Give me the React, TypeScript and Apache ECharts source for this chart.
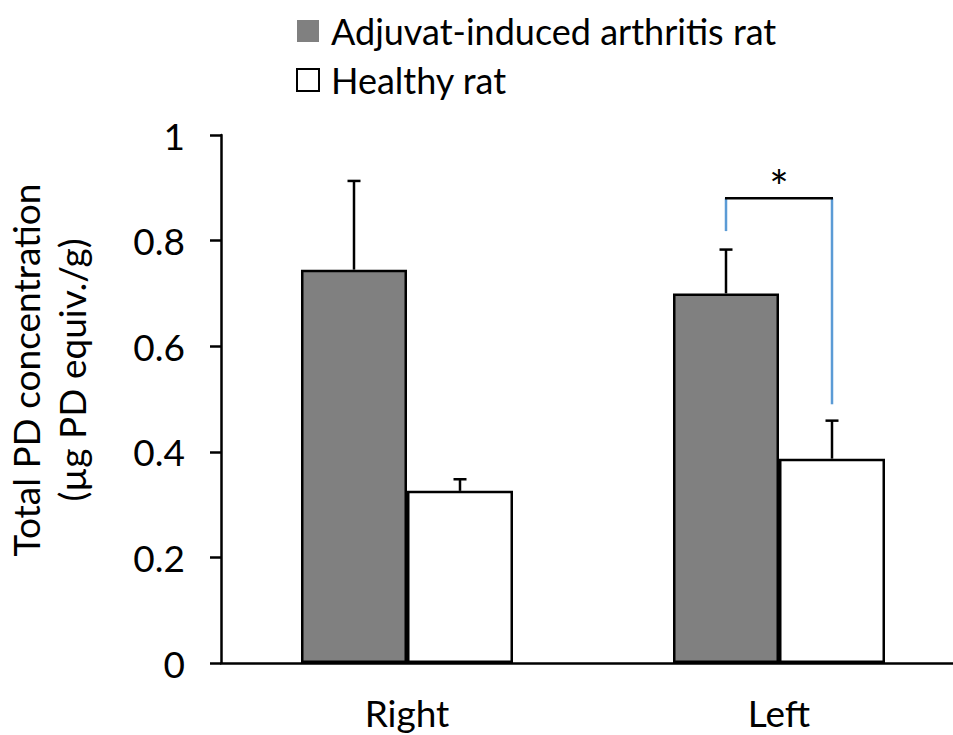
import React, { useEffect, useRef } from 'react';
import * as echarts from 'echarts';

const categories = ['Right', 'Left'];
const seriesNames = ['Adjuvat-induced arthritis rat', 'Healthy rat'];
const arthritisMean = [0.745, 0.7];
const arthritisErr = [0.168, 0.083];
const healthyMean = [0.326, 0.387];
const healthyErr = [0.022, 0.072];
const yMin = 0;
const yMax = 1;
const yInterval = 0.2;
const yTitle = 'Total PD concentration\n(µg PD equiv./g)';
// significance bracket on the "Left" group: [categoryIndex, top, leftEnd, rightEnd]
const sigBracket = [1, 0.88, 0.818, 0.49];
const sigLabel = '*';

const FONT = 'Lato';
const FS = 37;
const BAR_W = 106;

export default function App() {
  const ref = useRef<HTMLDivElement>(null);
  useEffect(() => {
    if (!ref.current) return;
    const chart = echarts.init(ref.current, undefined, { renderer: 'svg' });

    const errorRender = (offset: number) => (params: any, api: any) => {
      const xi = api.value(0);
      const base = api.coord([xi, api.value(1)]);
      const top = api.coord([xi, api.value(2)]);
      const x = base[0] + offset;
      return {
        type: 'group',
        children: [
          { type: 'line', shape: { x1: x, y1: base[1], x2: x, y2: top[1] }, style: { stroke: '#000', lineWidth: 2.5 } },
          { type: 'line', shape: { x1: x - 6.5, y1: top[1], x2: x + 6.5, y2: top[1] }, style: { stroke: '#000', lineWidth: 2.5 } },
        ],
      };
    };

    chart.setOption({
      animation: false,
      backgroundColor: '#fff',
      textStyle: { fontFamily: FONT },
      legend: {
        orient: 'vertical',
        left: 291,
        top: 8,
        itemWidth: 22,
        itemHeight: 22,
        itemGap: 13,
        icon: 'rect',
        textStyle: { fontFamily: FONT, fontSize: 36, color: '#000', padding: [0, 0, 0, 7] },
        data: [
          { name: seriesNames[0], itemStyle: { color: '#808080', borderWidth: 0 } },
          { name: seriesNames[1], itemStyle: { color: '#fff', borderColor: '#000', borderWidth: 2 } },
        ],
      },
      grid: { left: 221, right: 0, top: 135, bottom: 72, containLabel: false },
      xAxis: {
        type: 'category',
        data: categories,
        axisLine: { lineStyle: { color: '#000', width: 2.5 } },
        axisTick: { show: false },
        axisLabel: { fontFamily: FONT, fontSize: FS, lineHeight: 37, color: '#000', margin: 31 },
      },
      yAxis: {
        type: 'value',
        min: yMin,
        max: yMax,
        interval: yInterval,
        splitLine: { show: false },
        axisLine: { show: true, lineStyle: { color: '#000', width: 2.5 } },
        axisTick: { show: true, length: 11, lineStyle: { color: '#000', width: 2.5 } },
        axisLabel: { fontFamily: FONT, fontSize: FS, color: '#000', margin: 36 },
      },
      graphic: [
        {
          type: 'text',
          x: 48,
          y: 370,
          rotation: Math.PI / 2,
          style: {
            text: yTitle,
            fontFamily: FONT,
            fontSize: FS,
            lineHeight: 46,
            fill: '#000',
            align: 'center',
            verticalAlign: 'middle',
          },
        },
      ],
      series: [
        {
          name: seriesNames[0],
          type: 'bar',
          data: arthritisMean,
          barWidth: BAR_W,
          barGap: '0%',
          itemStyle: { color: '#808080', borderColor: '#000', borderWidth: 2.5 },
        },
        {
          name: seriesNames[1],
          type: 'bar',
          data: healthyMean,
          barWidth: BAR_W,
          barGap: '0%',
          itemStyle: { color: '#fff', borderColor: '#000', borderWidth: 2.5 },
        },
        {
          type: 'custom',
          data: categories.map((_, i) => [i, arthritisMean[i], arthritisMean[i] + arthritisErr[i]]),
          renderItem: errorRender(-BAR_W / 2),
          z: 5,
        },
        {
          type: 'custom',
          data: categories.map((_, i) => [i, healthyMean[i], healthyMean[i] + healthyErr[i]]),
          renderItem: errorRender(BAR_W / 2),
          z: 5,
        },
        {
          type: 'custom',
          data: [sigBracket],
          z: 6,
          renderItem: (params: any, api: any) => {
            const xi = api.value(0);
            const top = api.coord([xi, api.value(1)]);
            const l = api.coord([xi, api.value(2)]);
            const r = api.coord([xi, api.value(3)]);
            const xl = top[0] - BAR_W / 2;
            const xr = top[0] + BAR_W / 2;
            const blue = '#5B9BD5';
            return {
              type: 'group',
              children: [
                { type: 'line', shape: { x1: xl, y1: top[1], x2: xl, y2: l[1] }, style: { stroke: blue, lineWidth: 2.5 } },
                { type: 'line', shape: { x1: xr, y1: top[1], x2: xr, y2: r[1] }, style: { stroke: blue, lineWidth: 2.5 } },
                { type: 'line', shape: { x1: xl - 1, y1: top[1], x2: xr + 1, y2: top[1] }, style: { stroke: '#000', lineWidth: 2.5 } },
                {
                  type: 'text',
                  x: top[0],
                  y: top[1] - 12,
                  style: { text: sigLabel, fontFamily: FONT, fontSize: 46, fill: '#000', align: 'center', verticalAlign: 'middle' },
                },
              ],
            };
          },
        },
      ],
    });
    return () => chart.dispose();
  }, []);
  return (
    <div style={{ position: 'absolute', left: 0, top: 0, width: 953, height: 735, overflow: 'hidden', background: '#fff' }}>
      <div ref={ref} style={{ width: 965, height: 735 }} />
    </div>
  );
}
